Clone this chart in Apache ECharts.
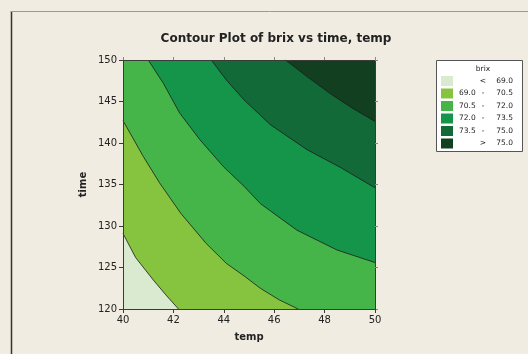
<!DOCTYPE html>
<html>
<head>
<meta charset="utf-8">
<script src="https://cdn.jsdelivr.net/npm/echarts@6/dist/echarts.min.js"></script>
<style>
  html, body { margin: 0; padding: 0; background: #f0ece2; }
  #chart { width: 528px; height: 354px; }
</style>
</head>
<body>
<div id="chart"></div>
<script>
// contour plot of brix over (temp, time), lines
const tempRange = [40, 50];
const timeRange = [120, 150];

// contour lines [temp, time], each from the left/top edge to the bottom/right edge
const c690 = [[40, 129.1], [40.5, 126.2], [41.2, 123.5], [41.7, 121.7], [42.2, 120]];
const c705 = [[40, 142.7], [40.8, 138.4], [41.45, 135.2], [42.3, 131.5], [43.3, 127.9], [44.1, 125.5], [44.8, 124.0], [45.45, 122.5], [46.2, 121.1], [46.95, 120]];
const c720 = [[41.0, 150], [41.6, 147.2], [42.25, 143.6], [43.05, 140.4], [44.0, 137.1], [44.8, 134.8], [45.45, 132.7], [46.9, 129.5], [48.5, 127.1], [50, 125.6]];
const c735 = [[43.5, 150], [44.1, 147.6], [44.8, 145.2], [45.85, 142.2], [47.3, 139.2], [48.6, 137.1], [50, 134.6]];
const c750 = [[46.45, 150], [47.3, 148], [48.2, 146], [49.1, 144.2], [50, 142.6]];

// legend rows
const legendLo = ['', '69.0', '70.5', '72.0', '73.5', ''];
const legendSep = ['<', '-', '-', '-', '-', '>'];
const legendHi = ['69.0', '70.5', '72.0', '73.5', '75.0', '75.0'];

const bandColors = ['#d9ead1', '#86c440', '#45b549', '#15954a', '#126a38', '#113f20'];
const contours = [c690, c705, c720, c735, c750];

// polygon of everything above/right of a contour line
const regionAbove = (line) => {
  const pts = line.slice();
  const first = line[0], last = line[line.length - 1];
  if (last[1] === timeRange[0]) pts.push([tempRange[1], timeRange[0]]);
  pts.push([tempRange[1], timeRange[1]]);
  if (first[0] === tempRange[0]) pts.push([tempRange[0], timeRange[1]]);
  return pts;
};

const regions = [
  [[tempRange[0], timeRange[0]], [tempRange[1], timeRange[0]], [tempRange[1], timeRange[1]], [tempRange[0], timeRange[1]]]
].concat(contours.map(regionAbove));

const font = 'DejaVu Sans';
const axisColor = '#3a3a3a';

const chart = echarts.init(document.getElementById('chart'), null, { renderer: 'canvas' });

const legendItems = [];
const lx = 436, ly = 60;
legendItems.push({
  type: 'rect', shape: { x: lx + 0.5, y: ly + 0.5, width: 86, height: 91 },
  style: { fill: '#ffffff', stroke: '#555', lineWidth: 1 }, z: 10
});
legendItems.push({
  type: 'text', x: 483, y: 69, z: 11,
  style: { text: 'brix', font: '7.5px ' + font, fill: '#222', align: 'center', verticalAlign: 'middle' }
});
legendHi.forEach((hi, i) => {
  const top = 76 + i * 12.5;
  const cy = top + 5;
  legendItems.push({
    type: 'rect', shape: { x: 441, y: top, width: 12, height: 10 },
    style: { fill: bandColors[i] }, z: 11
  });
  if (legendLo[i]) {
    legendItems.push({
      type: 'text', x: 459, y: cy, z: 11,
      style: { text: legendLo[i], font: '7.5px ' + font, fill: '#222', align: 'left', verticalAlign: 'middle' }
    });
  }
  legendItems.push({
    type: 'text', x: 483, y: cy, z: 11,
    style: { text: legendSep[i], font: '7.5px ' + font, fill: '#222', align: 'center', verticalAlign: 'middle' }
  });
  legendItems.push({
    type: 'text', x: 513, y: cy, z: 11,
    style: { text: hi, font: '7.5px ' + font, fill: '#222', align: 'right', verticalAlign: 'middle' }
  });
});

const baseAxis = {
  type: 'value',
  z: 5,
  axisLine: { show: true, lineStyle: { color: axisColor, width: 1 } },
  splitLine: { show: false }
};

chart.setOption({
  animation: false,
  backgroundColor: '#f0ece2',
  title: {
    text: 'Contour Plot of brix vs time, temp',
    left: 271, textAlign: 'center', top: 28,
    textStyle: { fontFamily: font, fontSize: 12, fontWeight: 'bold', color: '#222' }
  },
  grid: { left: 123, top: 60, width: 252, height: 249 },
  xAxis: [
    Object.assign({}, baseAxis, {
      position: 'bottom', min: tempRange[0], max: tempRange[1], interval: 2,
      axisTick: { show: true, inside: false, length: 4, lineStyle: { color: axisColor } },
      axisLabel: { margin: 6, fontFamily: font, fontSize: 10, color: '#222' },
      name: 'temp', nameLocation: 'middle', nameGap: 23,
      nameTextStyle: { fontFamily: font, fontSize: 10, fontWeight: 'bold', color: '#222' }
    }),
    Object.assign({}, baseAxis, {
      position: 'top', min: tempRange[0], max: tempRange[1], interval: 2,
      axisTick: { show: true, inside: false, length: 3, lineStyle: { color: '#888' } },
      axisLabel: { show: false }
    })
  ],
  yAxis: [
    Object.assign({}, baseAxis, {
      position: 'left', min: timeRange[0], max: timeRange[1], interval: 5,
      axisTick: { show: true, inside: false, length: 4, lineStyle: { color: axisColor } },
      axisLabel: { margin: 6, fontFamily: font, fontSize: 10, color: '#222' },
      name: 'time', nameLocation: 'middle', nameGap: 35,
      nameTextStyle: { fontFamily: font, fontSize: 10, fontWeight: 'bold', color: '#222' }
    }),
    Object.assign({}, baseAxis, {
      position: 'right', min: timeRange[0], max: timeRange[1], interval: 5,
      axisTick: { show: true, inside: false, length: 3, lineStyle: { color: '#888' } },
      axisLabel: { show: false }
    })
  ],
  series: [
    {
      type: 'custom',
      silent: true,
      z: 1,
      data: regions.map((r, i) => [i]),
      renderItem: (params, api) => {
        const pts = regions[params.dataIndex].map(p => api.coord(p));
        return { type: 'polygon', shape: { points: pts }, style: { fill: bandColors[params.dataIndex] } };
      }
    }
  ].concat(contours.map(line => ({
    type: 'line',
    silent: true,
    z: 3,
    data: line,
    symbol: 'none',
    lineStyle: { color: '#1c1c1c', width: 0.8 }
  }))),
  graphic: [
    { type: 'line', shape: { x1: 11.5, y1: 11, x2: 11.5, y2: 354 }, style: { stroke: '#333', lineWidth: 1.5 } },
    { type: 'line', shape: { x1: 11, y1: 11.5, x2: 528, y2: 11.5 }, style: { stroke: '#9a9a9a', lineWidth: 1 } }
  ].concat(legendItems)
});
</script>
</body>
</html>
